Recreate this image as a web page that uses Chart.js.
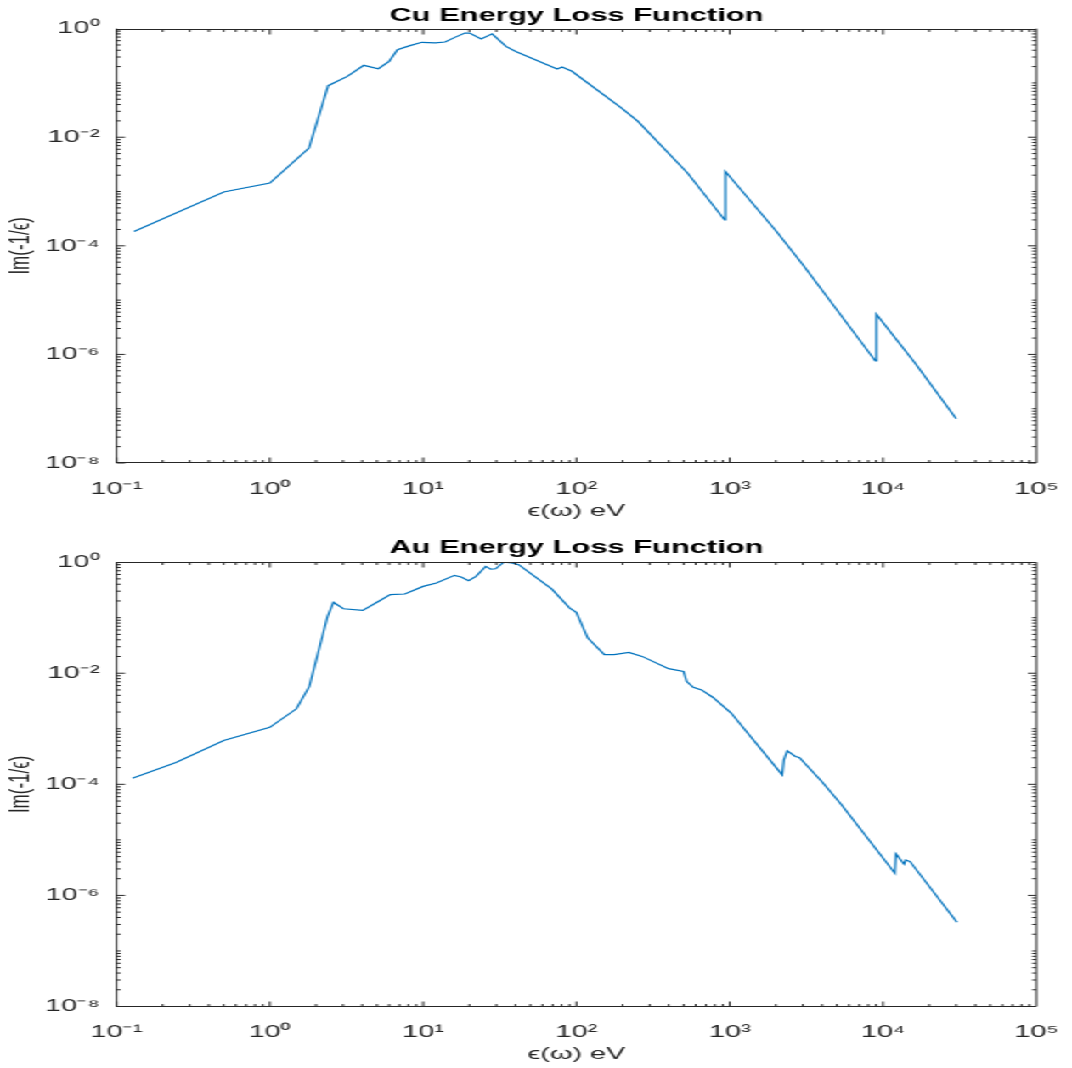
<!DOCTYPE html>
<html>
<head>
<meta charset="utf-8">
<script src="https://cdn.jsdelivr.net/npm/chart.js@4.4.1/dist/chart.umd.min.js"></script>
<style>
  html, body { margin: 0; padding: 0; background: #fff; overflow: hidden; }
  /* the original figure is stretched sideways, so draw narrow and widen it */
  #wrap { position: absolute; left: 0; top: 0; width: 631px; height: 1068px;
          transform: scaleX(1.6989); transform-origin: 0 0; }
  canvas { position: absolute; left: 0; }
  #cu { top: 0; }
  #au { top: 534px; }
</style>
</head>
<body>
<div id="wrap">
  <canvas id="cu" width="631" height="534"></canvas>
  <canvas id="au" width="631" height="534"></canvas>
</div>
<script>
// Cu loss function, energy in eV
const cuEnergy = [0.13, 0.5, 1.0, 1.8, 2.4, 3.2, 4.1, 5.1, 6.0, 6.8,
  8.2, 9.8, 12.0, 13.9, 16.1, 18.7, 20.1, 23.9, 28.2, 34.7,
  40.2, 74.8, 80.6, 93.5, 197, 252, 530, 927, 937, 2018,
  3000, 8910, 9050, 16200, 30000]
const cuLoss = [1.84e-4, 9.8e-4, 1.43e-3, 6.3e-3, 0.089, 0.132, 0.211, 0.183, 0.25, 0.41,
  0.486, 0.56, 0.545, 0.568, 0.69, 0.83, 0.83, 0.645, 0.80, 0.47,
  0.38, 0.18, 0.197, 0.164, 0.0345, 0.0196, 2.19e-3, 3.0e-4, 2.34e-3, 1.84e-4,
  4.47e-5, 7.6e-7, 5.5e-6, 6.9e-7, 6.5e-8]

// Au loss function
const auEnergy = [0.127, 0.244, 0.5, 1.0, 1.49, 1.81, 2.38, 2.6, 3.02, 4.04,
  5.0, 6.1, 7.6, 10, 12.2, 16, 17.7, 19.8, 22.1, 25.6,
  27.6, 29.7, 33.6, 38, 42, 51.2, 68.9, 90.4, 99.8, 118.6,
  152, 176, 220, 268, 399, 499, 524, 578, 655, 778,
  1021, 2198, 2254, 2371, 2680, 2843, 3981, 5358, 11940, 12130,
  13710, 14060, 15000, 30340]
const auLoss = [1.29e-4, 2.47e-4, 6.15e-4, 1.06e-3, 2.29e-3, 5.8e-3, 0.106, 0.189, 0.145, 0.135,
  0.19, 0.26, 0.267, 0.366, 0.42, 0.578, 0.54, 0.464, 0.555, 0.84,
  0.75, 0.76, 1.0, 0.97, 0.90, 0.60, 0.33, 0.149, 0.125, 0.043,
  0.0216, 0.0216, 0.0237, 0.0201, 0.0121, 0.0108, 7.1e-3, 5.6e-3, 5.0e-3, 3.66e-3,
  1.92e-3, 1.48e-4, 2.76e-4, 4.0e-4, 3.17e-4, 3.04e-4, 1.12e-4, 4.27e-5, 2.51e-6, 5.6e-6,
  3.65e-6, 4.36e-6, 4.07e-6, 3.29e-7]

const xTickVals = [0.1, 1, 10, 100, 1000, 10000, 100000]
const xTickLabels = ['10⁻¹', '10⁰', '10¹', '10²', '10³', '10⁴', '10⁵']
const yTickVals = [1e-8, 1e-6, 1e-4, 1e-2, 1]
const yTickLabels = ['10⁻⁸', '10⁻⁶', '10⁻⁴', '10⁻²', '10⁰']

const lineColor = '#0072BD'
const axisColor = '#262626'

Chart.defaults.font.family = '"Liberation Sans", Arial, Helvetica, sans-serif'
Chart.defaults.color = axisColor

// box round the plot with inward ticks on all four sides (matlab style)
const boxTicks = {
  id: 'boxTicks',
  afterDraw(chart) {
    const ctx = chart.ctx
    const a = chart.chartArea
    const x = chart.scales.x
    const y = chart.scales.y
    const top = Math.round(a.top) + 0.5
    const bottom = Math.round(a.bottom) - 0.5
    ctx.save()
    ctx.strokeStyle = axisColor
    ctx.lineWidth = 1
    ctx.beginPath()
    ctx.moveTo(a.left, top); ctx.lineTo(a.right, top)
    ctx.moveTo(a.left, bottom); ctx.lineTo(a.right, bottom)
    ctx.moveTo(a.left, a.top); ctx.lineTo(a.left, a.bottom)
    ctx.moveTo(a.right, a.top); ctx.lineTo(a.right, a.bottom)

    for (let e = Math.round(Math.log10(x.min)); e < Math.round(Math.log10(x.max)); e++) {
      for (let m = 1; m < 10; m++) {
        const px = x.getPixelForValue(m * Math.pow(10, e))
        const len = m === 1 ? 5 : 2.5
        ctx.moveTo(px, bottom); ctx.lineTo(px, bottom - len)
        ctx.moveTo(px, top); ctx.lineTo(px, top + len)
      }
    }
    for (let e = Math.round(Math.log10(y.min)); e < Math.round(Math.log10(y.max)); e++) {
      for (let m = 1; m < 10; m++) {
        const v = m * Math.pow(10, e)
        const py = y.getPixelForValue(v)
        const major = y.ticks.some(t => Math.abs(t.value - v) < v * 1e-6)
        const len = major ? 5 : 2.5
        ctx.moveTo(a.left, py); ctx.lineTo(a.left + len, py)
        ctx.moveTo(a.right, py); ctx.lineTo(a.right - len, py)
      }
    }
    ctx.stroke()
    ctx.restore()
  }
}

function makeChart(id, title, energy, loss, lay) {
  const ctx = document.getElementById(id)
  return new Chart(ctx, {
    type: 'line',
    data: {
      datasets: [{
        data: energy.map((e, i) => ({ x: e, y: loss[i] })),
        borderColor: lineColor,
        borderWidth: 1.2,
        pointRadius: 0,
        tension: 0,
        fill: false
      }]
    },
    options: {
      responsive: false,
      animation: false,
      devicePixelRatio: 1,
      layout: { padding: { left: 0, right: lay.right, top: 0, bottom: 0 } },
      plugins: {
        legend: { display: false },
        tooltip: { enabled: false },
        title: {
          display: true,
          fullSize: false,
          text: title,
          color: '#000',
          font: { size: 18.2, weight: 'bold' },
          padding: { top: lay.titleTop, bottom: lay.titleBottom }
        }
      },
      scales: {
        x: {
          type: 'logarithmic',
          min: 0.1,
          max: 100000,
          afterBuildTicks: s => { s.ticks = xTickVals.map(v => ({ value: v })) },
          afterFit: s => { s.height = lay.xHeight },
          grid: { display: false },
          border: { display: false },
          ticks: {
            autoSkip: false,
            maxRotation: 0,
            padding: 8,
            color: axisColor,
            font: { size: 17 },
            callback: (v, i) => xTickLabels[i]
          },
          title: {
            display: true,
            text: 'ϵ(ω) eV',
            color: axisColor,
            font: { size: 17 },
            padding: { top: 0, bottom: lay.xTitleBottom }
          }
        },
        y: {
          type: 'logarithmic',
          min: 1e-8,
          max: 1,
          afterBuildTicks: s => { s.ticks = yTickVals.map(v => ({ value: v })) },
          afterFit: s => { s.width = 68.6 },
          grid: { display: false },
          border: { display: false },
          ticks: {
            autoSkip: false,
            padding: 2,
            color: axisColor,
            font: { size: 17 },
            callback: (v, i) => yTickLabels[i]
          },
          title: {
            display: true,
            text: 'Im(-1/ϵ)',
            color: axisColor,
            font: { size: 17 },
            padding: { top: 2, bottom: 0 }
          }
        }
      }
    },
    plugins: [boxTicks]
  })
}

makeChart('cu', 'Cu Energy Loss Function', cuEnergy, cuLoss,
  { right: 15.3, titleTop: 5, titleBottom: 1.8, xHeight: 71, xTitleBottom: 12.8 })
makeChart('au', 'Au Energy Loss Function', auEnergy, auLoss,
  { right: 14.8, titleTop: 3, titleBottom: 3.3, xHeight: 61.5, xTitleBottom: 3 })
</script>
</body>
</html>
